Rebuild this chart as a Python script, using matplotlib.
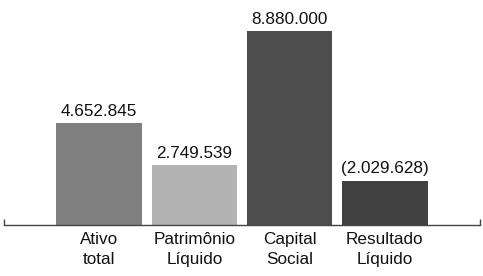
import matplotlib
matplotlib.use("Agg")
import matplotlib.pyplot as plt

categories = ["Ativo\ntotal", "Patrimônio\nLíquido", "Capital\nSocial", "Resultado\nLíquido"]
values = [4652845, 2749539, 8880000, -2029628]
labels = ["4.652.845", "2.749.539", "8.880.000", "(2.029.628)"]
colors = ["#808080", "#b3b3b3", "#4d4d4d", "#404040"]

plt.rcParams['font.family'] = ['Liberation Sans', 'DejaVu Sans']

fig = plt.figure(figsize=(4.83, 2.76), dpi=100)
ax = fig.add_axes([4/483, 1 - 225/276, 476/483, 225/276])
x = list(range(len(categories)))
heights = [abs(v) for v in values]
bars = ax.bar(x, heights, width=0.9, color=colors)
for xi, h, lab in zip(x, heights, labels):
    ax.annotate(lab, (xi, h), xytext=(0, 3), textcoords="offset points",
                ha="center", va="bottom", fontsize=12.3, color="#111111")

ax.set_xlim(-1, 4)
ax.set_ylim(0, 8880000 * 225 / 194)
for s in ["top", "left", "right"]:
    ax.spines[s].set_visible(False)
ax.spines["bottom"].set_color("#444444")
ax.spines["bottom"].set_linewidth(1)
ax.set_yticks([])
ax.set_xticks(x)
ax.set_xticklabels(categories, fontsize=12.3, linespacing=1.4)
ax.tick_params(axis="x", which="major", length=0, pad=5, colors="#111111")
ax.set_xticks([-1, 4], minor=True)
ax.tick_params(axis="x", which="minor", direction="in", length=4, width=1, color="#444444")

fig.savefig("out.png", dpi=100)
